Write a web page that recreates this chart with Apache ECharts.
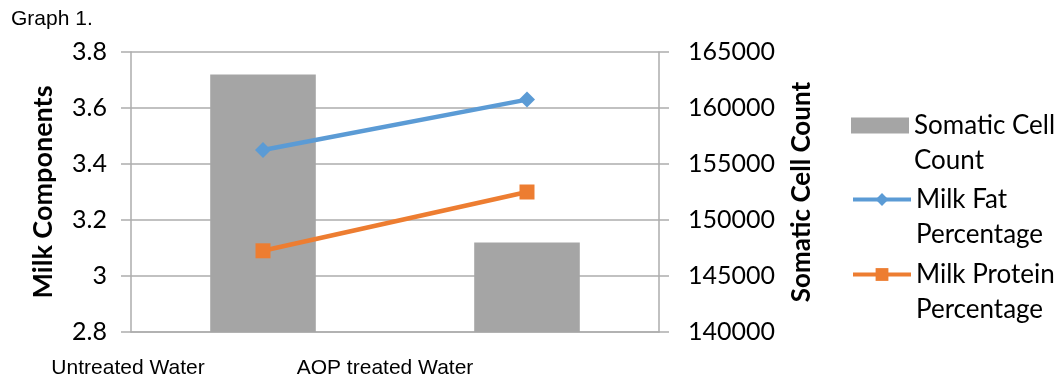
<!DOCTYPE html>
<html>
<head>
<meta charset="utf-8">
<script src="https://cdn.jsdelivr.net/npm/echarts@6/dist/echarts.min.js"></script>
<style>
  html, body { margin: 0; padding: 0; background: #fff; }
  #chart { width: 1060px; height: 381px; }
</style>
</head>
<body>
<div id="chart"></div>
<script>
// Water treatment groups
const categories = ['Untreated Water', 'AOP treated Water'];
// Somatic cell count (right axis)
const somaticCellCount = [163000, 148000];
// Milk components in percent (left axis)
const milkFatPct = [3.45, 3.63];
const milkProteinPct = [3.09, 3.30];
// Axis ranges
const leftAxisRange = { min: 2.8, max: 3.8, step: 0.2 };
const rightAxisRange = { min: 140000, max: 165000, step: 5000 };
// Legend wording, split over two lines
const legendLabels = {
  'Somatic Cell Count': ['Somatic Cell', 'Count'],
  'Milk Fat Percentage': ['Milk Fat', 'Percentage'],
  'Milk Protein Percentage': ['Milk Protein', 'Percentage']
};

const GRID = '#adadad';
const NUM_FONT = 'Lato, "Open Sans", sans-serif';
const SANS = '"Liberation Sans", Arial, sans-serif';

const chart = echarts.init(document.getElementById('chart'), null, { renderer: 'canvas' });

// One legend block per series; the leading empty line keeps the icon level
// with the first line of the wrapped label.
function legendFor(name, top, icon) {
  const block = {
    data: [name],
    left: 851,
    top: top,
    orient: 'vertical',
    padding: 0,
    itemWidth: 58,
    itemHeight: 16,
    selectedMode: false,
    lineStyle: { width: 4 },
    textStyle: { color: '#000', fontFamily: NUM_FONT, fontSize: 26, lineHeight: 35 },
    formatter: n => '\n' + legendLabels[n].join('\n')
  };
  if (icon) block.icon = icon;
  return block;
}

chart.setOption({
  animation: false,
  backgroundColor: '#fff',
  title: {
    text: 'Graph 1.',
    left: 11,
    top: 9,
    padding: 0,
    textStyle: { fontFamily: SANS, fontSize: 21, fontWeight: 'normal', color: '#000' }
  },
  legend: [
    legendFor('Somatic Cell Count', 73, 'rect'),
    legendFor('Milk Fat Percentage', 147),
    legendFor('Milk Protein Percentage', 222)
  ],
  grid: { left: 131, right: 401, top: 52, bottom: 49, containLabel: false },
  xAxis: {
    type: 'category',
    data: categories,
    boundaryGap: true,
    axisLine: { lineStyle: { color: GRID, width: 1.5 } },
    axisTick: { length: 10, lineStyle: { color: GRID, width: 1.5 } },
    axisLabel: {
      interval: 0,
      margin: 26,
      formatter: (v, i) => (i === 0 ? '{a|' : '{b|') + v + '}',
      rich: {
        a: { fontFamily: SANS, fontSize: 21, color: '#000', padding: [0, 270, 0, 0] },
        b: { fontFamily: SANS, fontSize: 21, color: '#000', padding: [0, 284, 0, 0] }
      }
    },
    splitLine: { show: false }
  },
  yAxis: [
    {
      type: 'value',
      position: 'left',
      min: leftAxisRange.min,
      max: leftAxisRange.max,
      interval: leftAxisRange.step,
      name: 'Milk Components',
      nameLocation: 'middle',
      nameGap: 74,
      nameTextStyle: { fontFamily: NUM_FONT, fontSize: 27, fontWeight: 'bold', color: '#000' },
      axisLine: { show: true, lineStyle: { color: GRID, width: 1.5 } },
      axisTick: { show: true, length: 10, lineStyle: { color: GRID, width: 1.5 } },
      axisLabel: {
        margin: 24,
        fontFamily: NUM_FONT,
        fontSize: 25,
        color: '#000',
        formatter: v => String(Math.round(v * 10) / 10)
      },
      splitLine: { show: true, lineStyle: { color: GRID, width: 1.5 } }
    },
    {
      type: 'value',
      position: 'right',
      min: rightAxisRange.min,
      max: rightAxisRange.max,
      interval: rightAxisRange.step,
      name: 'Somatic Cell Count',
      nameLocation: 'middle',
      nameGap: 130,
      nameRotate: 90,
      nameTextStyle: { fontFamily: NUM_FONT, fontSize: 26, fontWeight: 'bold', color: '#000' },
      axisLine: { show: true, lineStyle: { color: GRID, width: 1.5 } },
      axisTick: { show: true, length: 10, lineStyle: { color: GRID, width: 1.5 } },
      axisLabel: {
        margin: 29,
        fontFamily: NUM_FONT,
        fontSize: 25,
        color: '#000',
        formatter: v => String(v)
      },
      splitLine: { show: false }
    }
  ],
  series: [
    {
      name: 'Somatic Cell Count',
      type: 'bar',
      yAxisIndex: 1,
      data: somaticCellCount,
      barWidth: '40%',
      itemStyle: { color: '#a5a5a5' },
      z: 1
    },
    {
      name: 'Milk Fat Percentage',
      type: 'line',
      yAxisIndex: 0,
      data: milkFatPct,
      symbol: 'diamond',
      symbolSize: 16,
      lineStyle: { color: '#5b9bd5', width: 4.5 },
      itemStyle: { color: '#5b9bd5' },
      z: 3
    },
    {
      name: 'Milk Protein Percentage',
      type: 'line',
      yAxisIndex: 0,
      data: milkProteinPct,
      symbol: 'rect',
      symbolSize: 15,
      lineStyle: { color: '#ed7d31', width: 4.5 },
      itemStyle: { color: '#ed7d31' },
      z: 3
    }
  ]
});
</script>
</body>
</html>
